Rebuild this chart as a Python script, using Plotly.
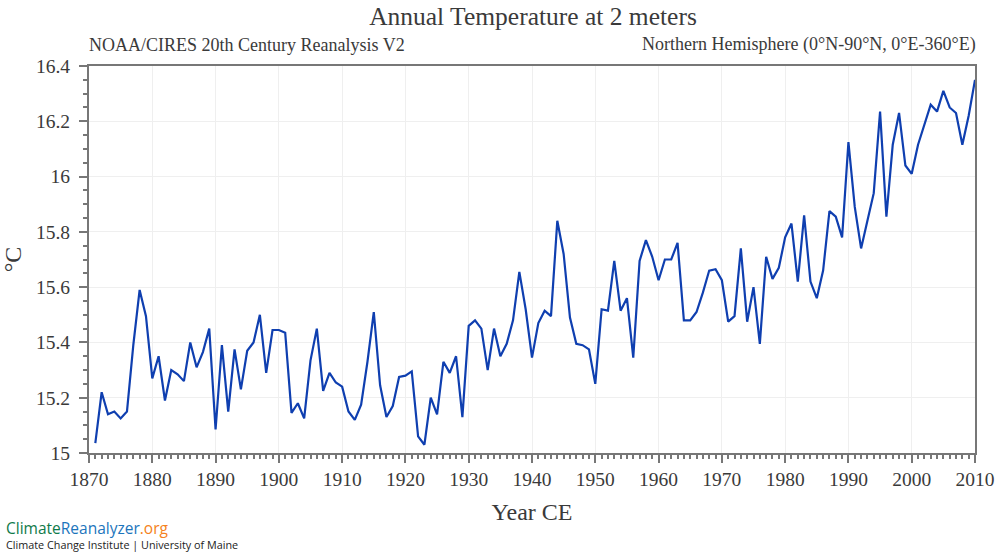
import plotly.graph_objects as go

# Annual mean 2 m temperature
years = list(range(1871, 2011))
temps = [
    15.036, 15.22, 15.14, 15.15, 15.125, 15.15, 15.39, 15.59, 15.495, 15.27,
    15.35, 15.19, 15.30, 15.285, 15.26, 15.40, 15.31, 15.365, 15.45, 15.085,
    15.39, 15.15, 15.375, 15.23, 15.37, 15.40, 15.50, 15.29, 15.445, 15.445,
    15.435, 15.145, 15.18, 15.125, 15.335, 15.45, 15.225, 15.29, 15.255, 15.24,
    15.15, 15.12, 15.175, 15.33, 15.51, 15.245, 15.13, 15.17, 15.275, 15.28,
    15.295, 15.06, 15.03, 15.20, 15.14, 15.33, 15.29, 15.35, 15.13, 15.46,
    15.48, 15.45, 15.30, 15.45, 15.35, 15.395, 15.48, 15.655, 15.52, 15.345,
    15.47, 15.515, 15.495, 15.84, 15.72, 15.49, 15.395, 15.39, 15.375, 15.25,
    15.52, 15.515, 15.695, 15.515, 15.56, 15.345, 15.695, 15.77, 15.71, 15.625,
    15.70, 15.70, 15.76, 15.48, 15.48, 15.51, 15.58, 15.66, 15.665, 15.625,
    15.475, 15.495, 15.74, 15.475, 15.60, 15.395, 15.71, 15.63, 15.67, 15.78,
    15.83, 15.62, 15.86, 15.62, 15.56, 15.66, 15.875, 15.855, 15.78, 16.125,
    15.89, 15.74, 15.84, 15.94, 16.235, 15.855, 16.115, 16.23, 16.04, 16.01,
    16.115, 16.19, 16.26, 16.235, 16.31, 16.25, 16.23, 16.115, 16.22, 16.35,
]
x_ticks = list(range(1870, 2011, 10))
y_ticks = [15, 15.2, 15.4, 15.6, 15.8, 16, 16.2, 16.4]
y_labels = ['15', '15.2', '15.4', '15.6', '15.8', '16', '16.2', '16.4']

SERIF = 'Liberation Serif'
TEXT = '#3a3a3a'
FRAME = '#777777'
GRID = '#efefef'

fig = go.Figure(go.Scatter(
    x=years, y=temps, mode='lines', cliponaxis=False,
    line=dict(color='#0f3fb0', width=2.2),
))


def style_axis(**kw):
    return dict(
        showline=True, linecolor=FRAME, linewidth=2, mirror=True,
        showgrid=True, gridcolor=GRID, gridwidth=1, zeroline=False,
        automargin=False,
        ticks='outside', ticklen=8, tickwidth=1.5, tickcolor=FRAME,
        tickfont=dict(family=SERIF, size=19.5, color=TEXT),
        **kw
    )


fig.update_layout(
    width=1000, height=558, autosize=False,
    margin=dict(l=89, r=25, t=66, b=105),
    paper_bgcolor='white', plot_bgcolor='white',
    showlegend=False,
    title=dict(text='Annual Temperature at 2 meters', x=0.533, xanchor='center',
               y=0.972, yanchor='middle',
               font=dict(family=SERIF, size=25.5, color=TEXT)),
    xaxis=style_axis(
        range=[1870, 2010], tickvals=x_ticks,
        minor=dict(dtick=1, ticks='outside', ticklen=4, tickcolor=FRAME, showgrid=False),
        title=dict(text='Year CE', font=dict(family=SERIF, size=24, color=TEXT), standoff=14),
    ),
    yaxis=style_axis(
        range=[15, 16.4], tickvals=y_ticks, ticktext=y_labels, ticklabelstandoff=5,
        minor=dict(dtick=0.05, ticks='outside', ticklen=4, tickcolor=FRAME, showgrid=False),
        title=dict(text='°C', font=dict(family=SERIF, size=24, color=TEXT), standoff=16),
    ),
)

fig.add_annotation(text='NOAA/CIRES 20th Century Reanalysis V2', xref='paper', yref='paper',
                   x=0, y=1, xanchor='left', yanchor='bottom', xshift=-2, yshift=9, showarrow=False,
                   font=dict(family=SERIF, size=18, color=TEXT))
fig.add_annotation(text='Northern Hemisphere (0°N-90°N, 0°E-360°E)', xref='paper', yref='paper',
                   x=1, y=1, xanchor='right', yanchor='bottom', xshift=3, yshift=9, showarrow=False,
                   font=dict(family=SERIF, size=18, color=TEXT))
fig.add_annotation(
    text='<span style="color:#0f7a4a">Climate</span><span style="color:#1c75bc">Reanalyzer</span>'
         '<span style="color:#f58220">.org</span>',
    xref='paper', yref='paper', x=-0.0935, y=-0.195, xanchor='left', yanchor='middle',
    xshift=-2, showarrow=False, font=dict(family='Open Sans', size=15.5),
)
fig.add_annotation(text='Climate Change Institute | University of Maine', xref='paper', yref='paper',
                   x=-0.0935, y=-0.237, xanchor='left', yanchor='middle', xshift=-2, showarrow=False,
                   font=dict(family='Open Sans', size=10.8, color='#222222'))

# the page's default 8px body margin would push the whole chart off
fig.write_html("out.html", post_script="document.body.style.margin='0';",
               config={'displayModeBar': False})
